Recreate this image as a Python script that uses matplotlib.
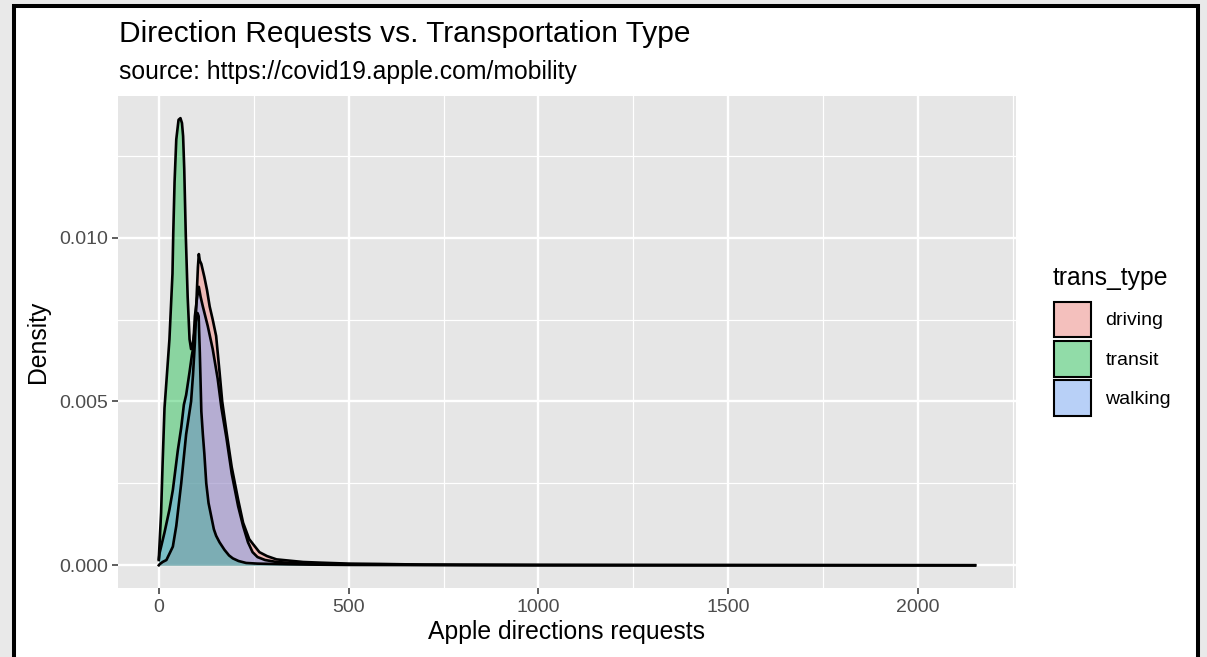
import numpy as np
import matplotlib.pyplot as plt
import matplotlib.colors as mcolors
from matplotlib.patches import Patch, Rectangle

# density curves (x = requests, y = density)
driving_x = [0, 2, 10, 20, 30, 37, 46, 59, 72, 85, 90, 95, 100, 103, 105.4, 108, 112, 120, 127,
             134, 142, 151, 160, 167, 178, 192, 209, 222, 238, 250, 265, 285, 310, 336, 380,
             424, 500, 582, 700, 1000, 1500, 2150]
driving_y = [0.0, 0.00003, 0.0001, 0.00016, 0.0004, 0.00057, 0.0012, 0.0025, 0.0040, 0.0050,
             0.0058, 0.0068, 0.0083, 0.0091, 0.0095, 0.0093, 0.0092, 0.0088, 0.0084, 0.0079,
             0.0075, 0.0070, 0.0059, 0.0050, 0.0041, 0.0030, 0.0020, 0.0013, 0.0008, 0.00062,
             0.0004, 0.00028, 0.00018, 0.00015, 0.0001, 0.00008, 0.00005, 0.00004, 0.00002,
             0.00001, 0.000005, 0.0]

transit_x = [0, 3, 6, 10, 15, 20, 28, 36, 38, 41.5, 46, 52, 57, 61, 64, 67, 71, 76, 81, 85, 90,
             95, 99, 102, 105, 108, 112, 116, 120, 125, 131, 138, 145, 151, 160, 173, 185, 195,
             210, 230, 260, 300, 340, 400, 500, 700, 1000, 1500, 2150]
transit_y = [0.0002, 0.0009, 0.0016, 0.0031, 0.0048, 0.0056, 0.0069, 0.0089, 0.0101, 0.0117,
             0.0130, 0.0136, 0.01365, 0.0135, 0.0131, 0.0121, 0.0101, 0.0082, 0.0069, 0.0066,
             0.0068, 0.0072, 0.0076, 0.0077, 0.0076, 0.0065, 0.0047, 0.0040, 0.0034, 0.0025,
             0.0019, 0.0015, 0.0011, 0.0009, 0.0007, 0.00047, 0.0003, 0.00021, 0.00013, 0.00007,
             0.00005, 0.00004, 0.00003, 0.00002, 0.00001, 0.000005, 0.0, 0.0, 0.0]

walking_x = [0, 2, 15, 28, 37, 50, 59, 66, 72, 81, 87, 90, 95, 100, 105.4, 110, 116, 129, 142,
             155, 165, 178, 192, 209, 222, 235, 247, 260, 280, 310, 350, 400, 500, 600, 800,
             1200, 2150]
walking_y = [0.00016, 0.00037, 0.0010, 0.0017, 0.0023, 0.0035, 0.0042, 0.0049, 0.0052, 0.0059,
             0.0064, 0.0066, 0.0076, 0.0081, 0.0085, 0.0082, 0.0079, 0.0073, 0.0066, 0.0057,
             0.0048, 0.0039, 0.0028, 0.0018, 0.0012, 0.0007, 0.0004, 0.00025, 0.00016, 0.0001,
             0.00007, 0.00005, 0.00003, 0.00002, 0.00001, 0.000005, 0.0]

trans_types = ['driving', 'transit', 'walking']
colors = ['#F8766D', '#00BA38', '#619CFF']
curves = [(driving_x, driving_y), (transit_x, transit_y), (walking_x, walking_y)]

x_major = [0, 500, 1000, 1500, 2000]
x_minor = [250, 750, 1250, 1750, 2250]
y_major = [0.0, 0.005, 0.010]
y_minor = [0.0025, 0.0075, 0.0125]

W, H = 1207, 657
ALPHA = 0.4
plt.rcParams['font.family'] = ['Liberation Sans', 'DejaVu Sans']
fig = plt.figure(figsize=(W / 100, H / 100), dpi=100, facecolor='#e9e9e9')

# white card with black border (bottom edge runs off the image)
fig.patches.append(Rectangle((14 / W, -0.1), (1197.5 - 14) / W, 1 - 6 / H + 0.1,
                             transform=fig.transFigure, facecolor='white',
                             edgecolor='black', lw=2.9, zorder=-1))

ax = fig.add_axes([118 / W, 1 - 587.6 / H, (1015.8 - 118) / W, (587.6 - 96.2) / H])
ax.set_facecolor('#E6E6E6')

for (xs, ys), c in zip(curves, colors):
    ax.fill_between(xs, ys, color=c, alpha=ALPHA, lw=0)
    ax.plot(xs, ys, color='black', lw=1.9, solid_joinstyle='round')

ax.set_xlim(-107.5, 2257.5)
ax.set_ylim(-0.000682, 0.01432)
ax.set_xticks(x_major)
ax.set_xticks(x_minor, minor=True)
ax.set_yticks(y_major)
ax.set_yticks(y_minor, minor=True)
ax.set_yticklabels([f'{v:.3f}' for v in y_major])
ax.grid(which='major', color='white', lw=1.7)
ax.grid(which='minor', color='white', lw=0.85)
ax.set_axisbelow(True)
ax.tick_params(which='major', length=4.6, width=1.1, color='#333333',
               labelsize=14, labelcolor='#4d4d4d')
ax.tick_params(axis='y', pad=2.4)
ax.tick_params(axis='x', pad=3.3)
ax.tick_params(which='minor', length=0)
for s in ax.spines.values():
    s.set_visible(False)

fig.text(119 / W, 1 - 41.7 / H, 'Direction Requests vs. Transportation Type',
         fontsize=21.5, va='baseline', ha='left')
fig.text(119 / W, 1 - 79.3 / H, 'source: https://covid19.apple.com/mobility',
         fontsize=17.8, va='baseline', ha='left')
fig.text(567 / W, 1 - 639 / H, 'Apple directions requests', fontsize=17.8,
         va='baseline', ha='center')
fig.text(37.5 / W, 1 - 342 / H, 'Density', fontsize=17.8, rotation=90,
         va='center', ha='center')

# legend: title as text, keys are alpha fills over a light key background
fig.text(1053 / W, 1 - 285 / H, 'trans_type', fontsize=17.8, va='baseline', ha='left')
key_bg = np.array(mcolors.to_rgb('#F2F2F2'))
handles = []
for name, c in zip(trans_types, colors):
    fc = (1 - ALPHA) * key_bg + ALPHA * np.array(mcolors.to_rgb(c))
    handles.append(Patch(facecolor=fc, edgecolor='black', lw=1.5, label=name))
fig.legend(handles=handles, loc='upper left',
           bbox_to_anchor=(1054 / W, 1 - 301.5 / H), frameon=False, borderpad=0,
           fontsize=14, handlelength=1.9, handleheight=2.47, handletextpad=0.75,
           labelspacing=0.17, borderaxespad=0)

fig.savefig('out.png', dpi=100)
